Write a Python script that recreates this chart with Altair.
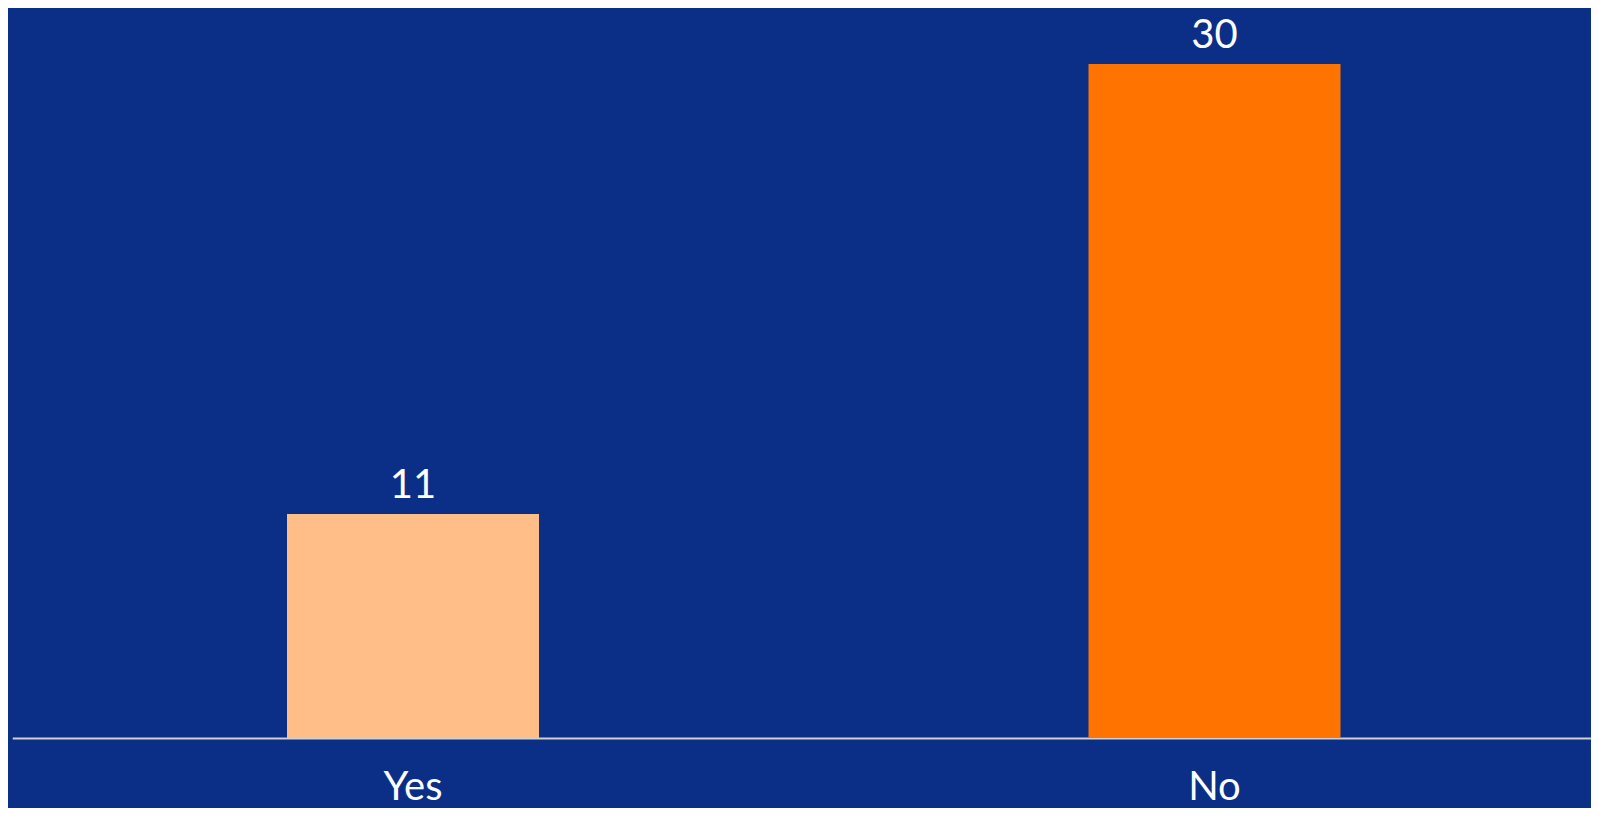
import altair as alt
import pandas as pd

categories = ["Yes", "No"]
values = [11, 30]
bar_colors = ["#FFBD88", "#FF7300"]

df = pd.DataFrame({"answer": categories, "count": values})

y_min, y_max = 1.54, 32.36

x_enc = alt.X("answer:N", sort=categories,
              scale=alt.Scale(paddingInner=0, paddingOuter=0, range=[0.25, 1603.25]),
              axis=alt.Axis(title=None, labelAngle=0, labelFont="Lato", labelFontSize=40,
                            labelColor="white", ticks=False, tickSize=0, labelPadding=29,
                            domainColor="#d0d0d0", domainWidth=2, grid=False))
y_scale = alt.Scale(domain=[y_min, y_max], zero=False, nice=False)

bars = alt.Chart(df).mark_bar(width=252).encode(
    x=x_enc,
    y=alt.Y("count:Q", scale=y_scale, axis=None, stack=None),
    y2=alt.datum(y_min),
    color=alt.Color("answer:N", scale=alt.Scale(domain=categories, range=bar_colors), legend=None),
)

labels = alt.Chart(df).mark_text(font="Lato", fontSize=40, color="white",
                                 baseline="alphabetic", dy=-16).encode(
    x=alt.X("answer:N", sort=categories),
    y=alt.Y("count:Q", scale=y_scale),
    text=alt.Text("count:Q"),
)

chart = alt.layer(bars, labels).properties(
    width=1579, height=730,
    background="#0B2F87",
    padding={"left": 4, "top": 0, "right": 0, "bottom": 70},
    autosize=alt.AutoSizeParams(type="none"),
).configure_view(stroke=None)

chart.save("out.html", embed_options={"renderer": "svg", "actions": False})
